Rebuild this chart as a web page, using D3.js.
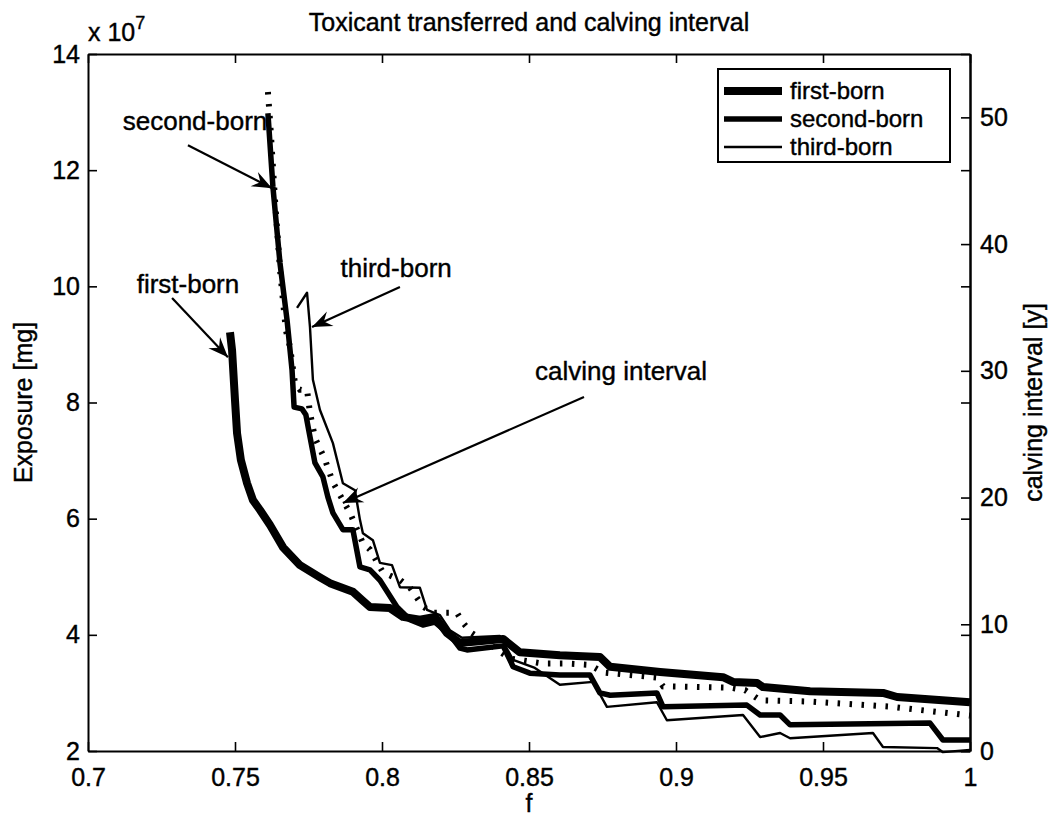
<!DOCTYPE html>
<html><head><meta charset="utf-8">
<script src="https://cdn.jsdelivr.net/npm/d3@7"></script>
<style>
body{margin:0;background:#fff}
text{font-family:"Liberation Sans",Arial,Helvetica,sans-serif;fill:#000;stroke:#000;stroke-width:0.4px}
</style>
</head><body>
<svg id="chart" width="1052" height="820"></svg>
<script>
// ---------- data ----------
const xTicks = [0.7, 0.75, 0.8, 0.85, 0.9, 0.95, 1];
const xTickLabels = ["0.7", "0.75", "0.8", "0.85", "0.9", "0.95", "1"];
const leftTicks = [2, 4, 6, 8, 10, 12, 14];        // exposure, x 10^7 mg
const leftTickLabels = ["2", "4", "6", "8", "10", "12", "14"];
const rightTicks = [0, 10, 20, 30, 40, 50];         // calving interval, years
const rightTickLabels = ["0", "10", "20", "30", "40", "50"];
const seriesNames = ["first-born", "second-born", "third-born"];

// [f, exposure (x 10^7 mg)]
const firstBorn = [
  [0.7483, 9.21], [0.7490, 8.90], [0.7500, 8.04], [0.7507, 7.47], [0.7520, 7.01],
  [0.7541, 6.61], [0.7561, 6.32], [0.7585, 6.15], [0.7619, 5.89], [0.7663, 5.51],
  [0.7721, 5.20], [0.7789, 4.99], [0.7823, 4.89], [0.7901, 4.74], [0.7932, 4.60],
  [0.7959, 4.48], [0.8027, 4.46], [0.8071, 4.31], [0.8129, 4.26], [0.8180, 4.31],
  [0.8221, 4.03], [0.8265, 3.86], [0.8412, 3.93], [0.8469, 3.70], [0.8605, 3.65],
  [0.8741, 3.62], [0.8776, 3.45], [0.8946, 3.36], [0.9160, 3.27], [0.9194, 3.19],
  [0.9276, 3.17], [0.9296, 3.10], [0.9456, 3.03], [0.9704, 3.00], [0.9752, 2.93],
  [1.0000, 2.84]
];
const secondBorn = [
  [0.7612, 12.98], [0.7629, 11.71], [0.7653, 10.40], [0.7677, 9.42], [0.7694, 8.56],
  [0.7701, 7.92], [0.7728, 7.89], [0.7741, 7.79], [0.7755, 7.41], [0.7772, 6.96],
  [0.7799, 6.72], [0.7816, 6.37], [0.7833, 6.10], [0.7867, 5.81], [0.7901, 5.81],
  [0.7925, 5.17], [0.7959, 5.12], [0.7993, 4.94], [0.8051, 4.48], [0.8095, 4.26],
  [0.8139, 4.17], [0.8180, 4.22], [0.8231, 4.00], [0.8265, 3.77], [0.8289, 3.74],
  [0.8412, 3.81], [0.8446, 3.45], [0.8503, 3.34], [0.8605, 3.31], [0.8707, 3.31],
  [0.8741, 3.00], [0.8776, 2.96], [0.8935, 3.00], [0.8956, 2.76], [0.9241, 2.79],
  [0.9286, 2.62], [0.9354, 2.62], [0.9388, 2.45], [0.9864, 2.48], [0.9908, 2.19],
  [1.0000, 2.19]
];
const thirdBorn = [
  [0.7711, 9.63], [0.7745, 9.89], [0.7755, 9.30], [0.7765, 8.39], [0.7789, 7.87],
  [0.7833, 7.30], [0.7867, 6.61], [0.7908, 6.49], [0.7925, 5.98], [0.7935, 5.75],
  [0.7969, 5.63], [0.7993, 5.24], [0.8034, 5.20], [0.8061, 4.82], [0.8129, 4.81],
  [0.8153, 4.43], [0.8197, 4.34], [0.8231, 4.08], [0.8272, 3.95], [0.8401, 3.98],
  [0.8446, 3.57], [0.8520, 3.43], [0.8605, 3.14], [0.8718, 3.19], [0.8765, 2.76],
  [0.8935, 2.84], [0.8969, 2.53], [0.9228, 2.62], [0.9286, 2.24], [0.9354, 2.31],
  [0.9388, 2.22], [0.9670, 2.31], [0.9704, 2.07], [0.9888, 2.05], [0.9908, 1.98],
  [1.0000, 2.02]
];
// [f, calving interval (y)]
const calvingInterval = [
  [0.7612, 52.0], [0.7619, 49.8], [0.7636, 43.5], [0.7653, 38.0], [0.7673, 33.2],
  [0.7687, 31.9], [0.7704, 29.0], [0.7721, 28.5], [0.7745, 28.5], [0.7755, 26.7],
  [0.7772, 24.7], [0.7806, 23.0], [0.7833, 21.2], [0.7857, 20.2], [0.7891, 18.8],
  [0.7935, 16.4], [0.7959, 15.9], [0.8003, 14.1], [0.8061, 13.5], [0.8095, 12.9],
  [0.8139, 11.4], [0.8173, 10.9], [0.8255, 10.9], [0.8276, 10.1], [0.8306, 9.3],
  [0.8367, 8.4], [0.8435, 7.3], [0.8548, 6.9], [0.8629, 6.9], [0.8707, 6.8],
  [0.8752, 6.2], [0.8935, 5.8], [0.8956, 5.1], [0.9184, 5.0], [0.9235, 4.8],
  [0.9286, 4.0], [0.9456, 3.9], [0.9728, 3.5], [1.0000, 2.8]
];
// annotations: text, text anchor point [f, exposure], arrow tail, arrow tip
const annotations = [
  {text: "second-born", at: [0.7364, 12.69], from: [0.7340, 12.43], to: [0.7626, 11.69]},
  {text: "first-born", at: [0.7340, 9.886], from: [0.7286, 9.80], to: [0.7476, 8.78]},
  {text: "third-born", at: [0.8048, 10.16], from: [0.8061, 9.99], to: [0.7762, 9.30]},
  {text: "calving interval", at: [0.8813, 8.39], from: [0.8687, 8.095], to: [0.7867, 6.27]}
];

// ---------- layout ----------
const L = 88, R = 970, T = 54, B = 751;
const svg = d3.select("#chart");

const x = d3.scaleLinear().domain([0.7, 1]).range([L, R]);
const yL = d3.scaleLinear().domain([2, 14]).range([B, T]);
const yR = d3.scaleLinear().domain([0, 55]).range([B, T]);

const FS = 25;

function styleAxis(g) {
  g.selectAll(".domain").attr("stroke", "#000").attr("stroke-width", 2);
  g.selectAll(".tick line").attr("stroke", "#000").attr("stroke-width", 1.6);
  g.selectAll(".tick text").attr("font-size", FS).attr("font-family", '"Liberation Sans",Arial,sans-serif').attr("fill", "#000");
}

// bottom axis
const gx = svg.append("g").attr("transform", `translate(0,${B})`)
  .call(d3.axisBottom(x).tickValues(xTicks).tickFormat((d, i) => xTickLabels[i])
    .tickSizeInner(-9).tickSizeOuter(0).tickPadding(17));
styleAxis(gx);
// top axis (ticks only)
const gxt = svg.append("g").attr("transform", `translate(0,${T})`)
  .call(d3.axisTop(x).tickValues(xTicks).tickFormat("").tickSizeInner(-9).tickSizeOuter(0));
styleAxis(gxt);
// left axis
const gl = svg.append("g").attr("transform", `translate(${L},0)`)
  .call(d3.axisLeft(yL).tickValues(leftTicks).tickFormat((d, i) => leftTickLabels[i])
    .tickSizeInner(-9).tickSizeOuter(0).tickPadding(8));
styleAxis(gl);
// right side: ticks of left axis (no labels)
const grl = svg.append("g").attr("transform", `translate(${R},0)`)
  .call(d3.axisRight(yL).tickValues(leftTicks).tickFormat("").tickSizeInner(-9).tickSizeOuter(0));
styleAxis(grl);
// right axis
const gr = svg.append("g").attr("transform", `translate(${R},0)`)
  .call(d3.axisRight(yR).tickValues(rightTicks).tickFormat((d, i) => rightTickLabels[i])
    .tickSizeInner(-9).tickSizeOuter(0).tickPadding(10));
styleAxis(gr);

// ---------- lines ----------
const lineL = d3.line().x(d => x(d[0])).y(d => yL(d[1]));
const lineR = d3.line().x(d => x(d[0])).y(d => yR(d[1]));
const widths = [8, 5.5, 2.4];
[firstBorn, secondBorn, thirdBorn].forEach((s, i) => {
  svg.append("path").datum(s).attr("d", lineL)
    .attr("fill", "none").attr("stroke", "#000").attr("stroke-width", widths[i])
    .attr("stroke-linejoin", "round").attr("stroke-linecap", "butt");
});
svg.append("path").datum(calvingInterval).attr("d", lineR)
  .attr("fill", "none").attr("stroke", "#000").attr("stroke-width", 6)
  .attr("stroke-dasharray", "2.5,9.5");

// ---------- annotations ----------
function arrow(x1, y1, x2, y2) {
  svg.append("line").attr("x1", x1).attr("y1", y1).attr("x2", x2).attr("y2", y2)
    .attr("stroke", "#000").attr("stroke-width", 2.2);
  const a = Math.atan2(y2 - y1, x2 - x1);
  const len = 20, hw = 8, back = 13;
  const ux = Math.cos(a), uy = Math.sin(a), px = -uy, py = ux;
  const p1 = [x2 - ux * len + px * hw, y2 - uy * len + py * hw];
  const p2 = [x2 - ux * back, y2 - uy * back];
  const p3 = [x2 - ux * len - px * hw, y2 - uy * len - py * hw];
  svg.append("path").attr("d", `M${x2},${y2}L${p1}L${p2}L${p3}Z`).attr("fill", "#000");
}
annotations.forEach(a => {
  svg.append("text").attr("x", x(a.at[0])).attr("y", yL(a.at[1]))
    .attr("text-anchor", "middle").attr("font-size", 26).text(a.text);
  arrow(x(a.from[0]), yL(a.from[1]), x(a.to[0]), yL(a.to[1]));
});

// ---------- legend ----------
const lg = svg.append("g");
const lgX = 718, lgY = 69, lgW = 232, lgH = 93;
lg.append("rect").attr("x", lgX).attr("y", lgY).attr("width", lgW).attr("height", lgH)
  .attr("fill", "#fff").attr("stroke", "#000").attr("stroke-width", 2);
seriesNames.forEach((n, i) => {
  const yy = lgY + 22 + i * 28;
  lg.append("line").attr("x1", lgX + 6).attr("x2", lgX + 64).attr("y1", yy).attr("y2", yy)
    .attr("stroke", "#000").attr("stroke-width", widths[i]);
  lg.append("text").attr("x", lgX + 72).attr("y", yy).attr("dy", "0.35em")
    .attr("font-size", 24).text(n);
});

// ---------- titles / labels ----------
svg.append("text").attr("x", (L + R) / 2).attr("y", 31).attr("text-anchor", "middle")
  .attr("font-size", 25).text("Toxicant transferred and calving interval");
const ex = svg.append("text").attr("x", L).attr("y", 41).attr("font-size", 25);
ex.append("tspan").text("x 10");
ex.append("tspan").attr("dy", -12).attr("font-size", 18).text("7");
svg.append("text").attr("transform", `translate(32,${(T + B) / 2}) rotate(-90)`)
  .attr("text-anchor", "middle").attr("font-size", 25).text("Exposure [mg]");
svg.append("text").attr("transform", `translate(1042,${(T + B) / 2}) rotate(-90)`)
  .attr("text-anchor", "middle").attr("font-size", 25).text("calving interval [y]");
svg.append("text").attr("x", (L + R) / 2).attr("y", 812).attr("text-anchor", "middle")
  .attr("font-size", 25).text("f");
</script>
</body></html>
